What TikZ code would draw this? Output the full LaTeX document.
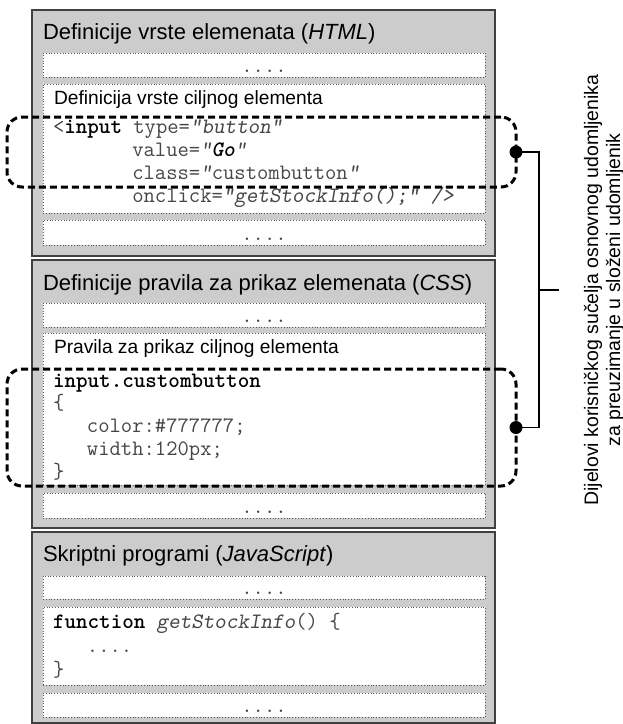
\documentclass[tikz,border=0pt]{standalone}
\usepackage{fontspec}
\setmainfont{Liberation Sans}
\usetikzlibrary{positioning}
\definecolor{panelgray}{RGB}{204,204,204}
\definecolor{frameedge}{RGB}{64,64,64}
\definecolor{codegray}{RGB}{70,70,70}
\newcommand{\kw}[1]{\textbf{\color{black}#1}}

\begin{document}
\begin{tikzpicture}[x=1pt, y=-1pt,
  every node/.style={inner sep=0pt, outer sep=0pt},
  panel/.style={draw=frameedge, fill=panelgray, line width=1.2pt,
    anchor=north west, minimum width=463pt},
  slot/.style={draw=black!65, fill=white, dotted, line width=0.8pt,
    anchor=north west, minimum width=442pt},
  title/.style={anchor=base west, font=\fontsize{22}{26}\selectfont},
  caption/.style={anchor=base west, font=\fontsize{19.2}{23}\selectfont},
  code/.style={anchor=base west, align=left, text=codegray,
    font=\fontsize{22}{22.7}\selectfont\ttfamily},
  gap/.style={anchor=base, text=codegray,
    font=\fontsize{22}{22.7}\selectfont\ttfamily},
  pick/.style={draw=black, dash pattern=on 7pt off 4pt, line width=3pt,
    rounded corners=15pt, anchor=north west, minimum width=509pt},
  link/.style={draw=black, line width=1.3pt},
]
\useasboundingbox (0,0) rectangle (623,724);

% three panels
\node[panel, minimum height=246pt] (htmlpanel) at (32,10)  {};
\node[panel, minimum height=268pt] (csspanel)  at (32,260) {};
\node[panel, minimum height=191pt] (jspanel)   at (32,532) {};

\node[title] (htmltitle) at (43,39)  {Definicije vrste elemenata (\textit{HTML})};
\node[title] (csstitle)  at (43,290) {Definicije pravila za prikaz elemenata (\textit{CSS})};
\node[title] (jstitle)   at (43,561) {Skriptni programi (\textit{JavaScript})};

% white slots
\node[slot, minimum height=24pt]  (htmltop)  at (43,53)  {};
\node[slot, minimum height=129pt] (htmldef)  at (43,84)  {};
\node[slot, minimum height=25pt]  (htmlend)  at (43,220) {};
\node[slot, minimum height=24pt]  (csstop)   at (43,303) {};
\node[slot, minimum height=152pt] (cssrule)  at (43,333) {};
\node[slot, minimum height=25pt]  (cssend)   at (43,493) {};
\node[slot, minimum height=23pt]  (jstop)    at (43,576) {};
\node[slot, minimum height=78pt]  (jsfunc)   at (43,607) {};
\node[slot, minimum height=24pt]  (jsend)    at (43,693) {};

\foreach \s in {htmltop,htmlend,csstop,cssend,jstop,jsend}
  \node[gap] (\s dots) at ([yshift=5pt]\s.south) {....};

\node[caption] (htmlcap) at (54,104) {Definicija vrste ciljnog elementa};
\node[caption] (csscap)  at (54,353) {Pravila za prikaz ciljnog elementa};

% base of a code node = baseline of its last line
\node[code] (htmlcode) at (53,202) {<\kw{input} type=\textsl{”button”}\\
  \hphantom{<input\ }value=\textsl{”}\kw{\textsl{Go}}\textsl{”}\\
  \hphantom{<input\ }class=\textsl{”}custombutton\textsl{”}\\
  \hphantom{<input\ }onclick=\textsl{”getStockInfo();” />}};
\node[code] (csscode) at (53,478) {\kw{input.custombutton}\\
  \{\\
  \hphantom{xxx}color:\#777777;\\
  \hphantom{xxx}width:120px;\\
  \}};
\node[code, font=\fontsize{22}{24}\selectfont\ttfamily] (jscode) at (53,676)
  {\kw{function} \textsl{getStockInfo}() \{\\
  \hphantom{xxx}....\\
  \}};

% selected parts
\node[pick, minimum height=70pt]  (htmlpick) at (7,117) {};
\node[pick, minimum height=117pt] (csspick)  at (7,369) {};

\coordinate (brace)    at (539,290);
\coordinate (bracetip) at (559,290);
\draw[link] (htmlpick.east) -- (htmlpick.east -| brace) -- (csspick.east -| brace) -- (csspick.east);
\draw[link] (brace) -- (bracetip);
\fill (htmlpick.east) circle[radius=6.5pt];
\fill (csspick.east)  circle[radius=6.5pt];

\node[rotate=90, align=center, font=\fontsize{19.5}{22}\selectfont] (sharedlabel) at (604,290)
  {Dijelovi korisničkog sučelja osnovnog udomljenika\\za preuzimanje u složeni udomljenik};
\end{tikzpicture}
\end{document}
